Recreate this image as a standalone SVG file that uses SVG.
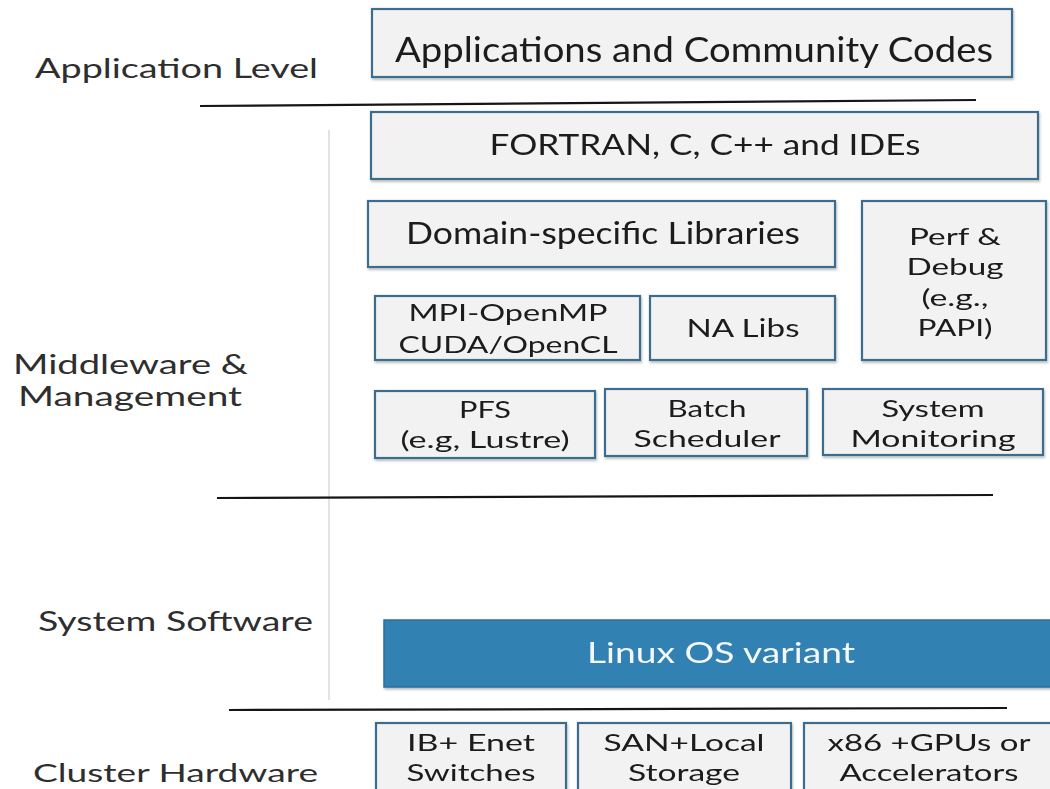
<svg xmlns="http://www.w3.org/2000/svg" width="1050" height="789" viewBox="0 0 1050 789">
<defs>
<style>
.box{fill:#F2F2F2;stroke:#3D6D8E;stroke-width:2.2}
.os{fill:#3381B3;stroke:#2F6F9A;stroke-width:1.5}
.t{font-family:Lato,"Open Sans",sans-serif;fill:#1A1A1A;text-anchor:middle}
.w{font-family:Lato,"Open Sans",sans-serif;fill:#F4F8FB;text-anchor:middle}
.lab{font-family:Lato,"Open Sans",sans-serif;fill:#2E2E2E}
.sep{stroke:#151515;stroke-width:2.2;fill:none}
</style>
<filter id="sh" x="-5%" y="-5%" width="110%" height="120%">
<feDropShadow dx="1" dy="2" stdDeviation="1" flood-color="#000" flood-opacity="0.25"/>
</filter>
</defs>
<rect width="1050" height="789" fill="#FFFFFF"/>
<line x1="329" y1="130" x2="329" y2="700" stroke="#E3E3E3" stroke-width="2"/>

<g id="labels">
<text class="lab" x="35" y="78" font-size="26" textLength="283" lengthAdjust="spacingAndGlyphs">Application Level</text>
<text class="lab" x="13" y="374" font-size="26" textLength="235" lengthAdjust="spacingAndGlyphs">Middleware &amp;</text>
<text class="lab" x="18" y="406" font-size="26" textLength="224" lengthAdjust="spacingAndGlyphs">Management</text>
<text class="lab" x="38" y="631" font-size="26" textLength="275" lengthAdjust="spacingAndGlyphs">System Software</text>
<text class="lab" x="33" y="782" font-size="25" textLength="285" lengthAdjust="spacingAndGlyphs">Cluster Hardware</text>
</g>

<g id="separators">
<polyline class="sep" points="200,106 976,100"/>
<polyline class="sep" points="217,498 993,495"/>
<polyline class="sep" points="229,710 1007,708"/>
</g>

<g id="apps" filter="url(#sh)">
<rect class="box" x="372" y="9" width="640" height="68"/>
<text class="t" x="694" y="62" font-size="35" textLength="598" lengthAdjust="spacingAndGlyphs">Applications and Community Codes</text>
</g>
<g id="fortran" filter="url(#sh)">
<rect class="box" x="371" y="112" width="667" height="67"/>
<text class="t" x="705" y="155" font-size="29" textLength="431" lengthAdjust="spacingAndGlyphs">FORTRAN, C, C++ and IDEs</text>
</g>
<g id="domain" filter="url(#sh)">
<rect class="box" x="368" y="201" width="467" height="66"/>
<text class="t" x="603" y="244" font-size="31" textLength="394" lengthAdjust="spacingAndGlyphs">Domain-specific Libraries</text>
</g>
<g id="perf" filter="url(#sh)">
<rect class="box" x="862" y="201" width="184" height="159"/>
<text class="t" x="955" y="245" font-size="24" textLength="92" lengthAdjust="spacingAndGlyphs">Perf &amp;</text>
<text class="t" x="955" y="275" font-size="24" textLength="97" lengthAdjust="spacingAndGlyphs">Debug</text>
<text class="t" x="955" y="306" font-size="24" textLength="67" lengthAdjust="spacingAndGlyphs">(e.g.,</text>
<text class="t" x="955" y="336" font-size="24" textLength="75" lengthAdjust="spacingAndGlyphs">PAPI)</text>
</g>
<g id="mpi" filter="url(#sh)">
<rect class="box" x="375" y="296" width="265" height="64"/>
<text class="t" x="508" y="321" font-size="24" textLength="199" lengthAdjust="spacingAndGlyphs">MPI-OpenMP</text>
<text class="t" x="508" y="353" font-size="24" textLength="219" lengthAdjust="spacingAndGlyphs">CUDA/OpenCL</text>
</g>
<g id="nalibs" filter="url(#sh)">
<rect class="box" x="650" y="296" width="185" height="64"/>
<text class="t" x="743" y="337" font-size="25" textLength="113" lengthAdjust="spacingAndGlyphs">NA Libs</text>
</g>
<g id="pfs" filter="url(#sh)">
<rect class="box" x="375" y="391" width="220" height="67"/>
<text class="t" x="485" y="418" font-size="24" textLength="52" lengthAdjust="spacingAndGlyphs">PFS</text>
<text class="t" x="485" y="448" font-size="24" textLength="169" lengthAdjust="spacingAndGlyphs">(e.g, Lustre)</text>
</g>
<g id="batch" filter="url(#sh)">
<rect class="box" x="605" y="389" width="202" height="67"/>
<text class="t" x="707" y="417" font-size="24" textLength="79" lengthAdjust="spacingAndGlyphs">Batch</text>
<text class="t" x="707" y="447" font-size="24" textLength="147" lengthAdjust="spacingAndGlyphs">Scheduler</text>
</g>
<g id="sysmon" filter="url(#sh)">
<rect class="box" x="823" y="389" width="220" height="66"/>
<text class="t" x="933" y="417" font-size="24" textLength="103" lengthAdjust="spacingAndGlyphs">System</text>
<text class="t" x="933" y="447" font-size="24" textLength="165" lengthAdjust="spacingAndGlyphs">Monitoring</text>
</g>
<g id="linux" filter="url(#sh)">
<rect class="os" x="384" y="620" width="680" height="67"/>
<text class="w" x="721" y="663" font-size="28" textLength="268" lengthAdjust="spacingAndGlyphs">Linux OS variant</text>
</g>
<g id="ib" filter="url(#sh)">
<rect class="box" x="376" y="723" width="190" height="80"/>
<text class="t" x="471" y="751" font-size="24" textLength="128" lengthAdjust="spacingAndGlyphs">IB+ Enet</text>
<text class="t" x="471" y="781" font-size="24" textLength="129" lengthAdjust="spacingAndGlyphs">Switches</text>
</g>
<g id="san" filter="url(#sh)">
<rect class="box" x="578" y="723" width="213" height="80"/>
<text class="t" x="684" y="751" font-size="24" textLength="161" lengthAdjust="spacingAndGlyphs">SAN+Local</text>
<text class="t" x="684" y="781" font-size="24" textLength="112" lengthAdjust="spacingAndGlyphs">Storage</text>
</g>
<g id="x86" filter="url(#sh)">
<rect class="box" x="804" y="723" width="260" height="80"/>
<text class="t" x="929" y="751" font-size="24" textLength="203" lengthAdjust="spacingAndGlyphs">x86 +GPUs or</text>
<text class="t" x="929" y="781" font-size="24" textLength="179" lengthAdjust="spacingAndGlyphs">Accelerators</text>
</g>
</svg>
